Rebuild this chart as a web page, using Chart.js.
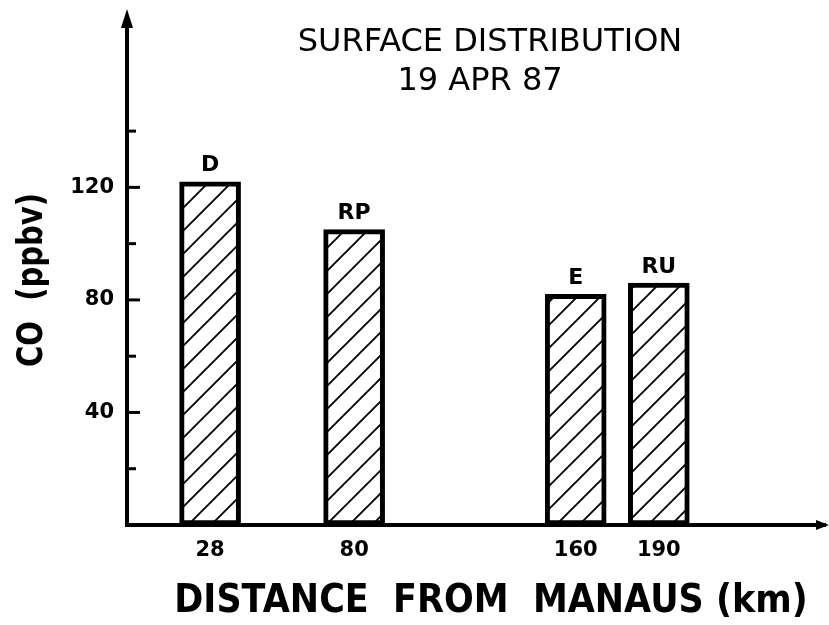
<!DOCTYPE html>
<html>
<head>
<meta charset="utf-8">
<script src="https://cdn.jsdelivr.net/npm/chart.js@4"></script>
<style>
html,body{margin:0;padding:0;background:#fff;}
#wrap{width:829px;height:625px;}
</style>
</head>
<body>
<div id="wrap"><canvas id="c" width="829" height="625"></canvas></div>
<script>
// ---- data ----
const distances = [28, 80, 160, 190];          // km from Manaus
const sites = ['D', 'RP', 'E', 'RU'];
const coValues = [122, 105, 82, 86];           // CO (ppbv)
const yTickValues = [20, 40, 60, 80, 100, 120, 140];
const yLabelledTicks = [40, 80, 120];
const titleLines = ['SURFACE DISTRIBUTION', '19 APR 87'];
const xTitle = 'DISTANCE  FROM  MANAUS (km)';
const yTitle = 'CO  (ppbv)';

// hatch pattern
function makeHatch() {
  const s = 23;
  const p = document.createElement('canvas');
  p.width = s; p.height = s;
  const g = p.getContext('2d');
  g.fillStyle = '#fff'; g.fillRect(0, 0, s, s);
  g.strokeStyle = '#000'; g.lineWidth = 1.9;
  g.beginPath();
  g.moveTo(-2, s + 2); g.lineTo(s + 2, -2);
  g.moveTo(-2, 2); g.lineTo(2, -2);
  g.moveTo(s - 2, s + 2); g.lineTo(s + 2, s - 2);
  g.stroke();
  return document.getElementById('c').getContext('2d').createPattern(p, 'repeat');
}

const FONT = '"DejaVu Sans", sans-serif';

const decor = {
  id: 'decor',
  afterDraw(chart) {
    const ctx = chart.ctx;
    const ca = chart.chartArea;
    const ys = chart.scales.y;
    const L = ca.left, B = ca.bottom;
    ctx.save();
    ctx.fillStyle = '#000';
    ctx.strokeStyle = '#000';
    // y axis extension + arrow
    ctx.lineWidth = 4;
    ctx.beginPath(); ctx.moveTo(L, ca.top + 2); ctx.lineTo(L, 24); ctx.stroke();
    ctx.beginPath(); ctx.moveTo(L, 9); ctx.lineTo(L - 6, 28); ctx.lineTo(L + 6, 28); ctx.closePath(); ctx.fill();
    // x axis arrow
    ctx.beginPath(); ctx.moveTo(829, B); ctx.lineTo(816, B - 5); ctx.lineTo(816, B + 5); ctx.closePath(); ctx.fill();
    // inward y ticks
    ctx.lineWidth = 3;
    yTickValues.forEach(v => {
      const py = ys.getPixelForValue(v);
      const len = yLabelledTicks.includes(v) ? 13 : 9;
      ctx.beginPath(); ctx.moveTo(L, py); ctx.lineTo(L + len, py); ctx.stroke();
    });
    // bar labels
    ctx.font = 'bold 22px ' + FONT;
    ctx.textAlign = 'center';
    ctx.textBaseline = 'bottom';
    const meta = chart.getDatasetMeta(0);
    meta.data.forEach((bar, i) => {
      ctx.fillText(sites[i], bar.x, bar.y - 5);
    });
    // title
    ctx.font = '32px ' + FONT;
    ctx.textBaseline = 'alphabetic';
    ctx.fillText(titleLines[0], 490, 51);
    ctx.fillText(titleLines[1], 480, 90);
    // x title
    ctx.save();
    ctx.translate(491, 612);
    ctx.scale(1, 1.12);
    ctx.font = 'bold 35px ' + FONT;
    ctx.fillText(xTitle, 0, 0);
    ctx.restore();
    // y title
    ctx.save();
    ctx.translate(42, 280);
    ctx.rotate(-Math.PI / 2);
    ctx.scale(1, 1.2);
    ctx.font = 'bold 29px ' + FONT;
    ctx.fillText(yTitle, 0, 0);
    ctx.restore();
    ctx.restore();
  }
};

new Chart(document.getElementById('c'), {
  type: 'bar',
  data: {
    datasets: [{
      data: distances.map((d, i) => ({ x: d, y: coValues[i] })),
      backgroundColor: makeHatch(),
      borderColor: '#000',
      borderWidth: 5,
      borderSkipped: false,
      barThickness: 61
    }]
  },
  options: {
    responsive: false,
    animation: false,
    layout: { padding: { top: 1, right: 4, left: 0, bottom: 0 } },
    plugins: { legend: { display: false }, tooltip: { enabled: false }, title: { display: false } },
    scales: {
      x: {
        type: 'linear',
        min: -2, max: 250,
        offset: false,
        grid: { drawOnChartArea: false, drawTicks: false },
        border: { color: '#000', width: 4 },
        afterBuildTicks: s => { s.ticks = distances.map(v => ({ value: v })); },
        afterFit: s => { s.height = 100; },
        ticks: { color: '#000', padding: 13, font: { family: FONT, size: 21, weight: 'bold' }, maxRotation: 0, autoSkip: false }
      },
      y: {
        min: 0, max: 177.5,
        grid: { drawOnChartArea: false, drawTicks: false },
        border: { color: '#000', width: 4 },
        afterBuildTicks: s => { s.ticks = yTickValues.map(v => ({ value: v })); },
        afterFit: s => { s.width = 127; },
        ticks: {
          color: '#000', padding: 13,
          font: { family: FONT, size: 21, weight: 'bold' },
          callback: v => yLabelledTicks.includes(v) ? String(v) : ''
        }
      }
    }
  },
  plugins: [decor]
});
</script>
</body>
</html>
